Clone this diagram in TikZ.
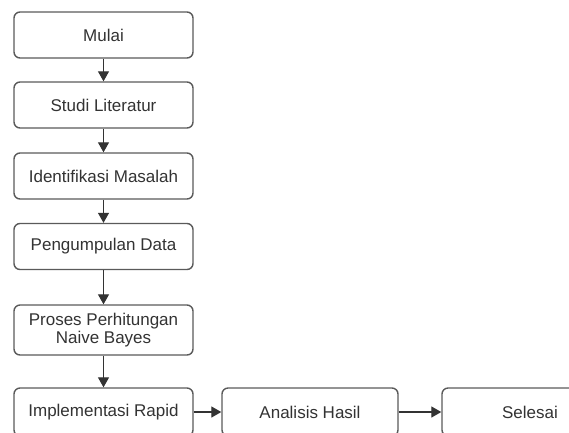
\documentclass[tikz,border=0pt]{standalone}
\usepackage{fontspec}
\setmainfont{Liberation Sans}
\usetikzlibrary{arrows.meta}
\definecolor{boxgray}{HTML}{5A5A5A}
\definecolor{txtgray}{HTML}{333333}
\begin{document}
\begin{tikzpicture}[x=1pt, y=-1pt,
    font=\fontsize{17}{18}\selectfont,
    box/.style={draw=boxgray, line width=1.4pt, rounded corners=6pt, fill=white,
                text=txtgray, align=center, inner sep=0pt,
                minimum width=179pt, minimum height=46pt},
    arr/.style={draw=black!80, line width=1.3pt, -{Triangle[length=10pt,width=11pt]}}]
  \useasboundingbox (0,0) rectangle (569,432);
  \node[box] (mulai) at (103.5,35) {Mulai};
  \node[box] (studi) at (103.5,105) {Studi Literatur};
  \node[box] (masalah) at (103.5,176) {Identifikasi Masalah};
  \node[box] (data) at (103.5,246.5) {Pengumpulan Data};
  \node[box, minimum height=50pt] (naive) at (103.5,330) {Proses Perhitungan\\Naive Bayes};
  \node[box, minimum height=48pt] (rapid) at (103.5,412) {Implementasi Rapid};
  \node[box, minimum height=48pt, minimum width=176pt] (hasil) at (310,412) {Analisis Hasil};
  \node[box, minimum height=48pt, minimum width=176pt] (selesai) at (530,412) {Selesai};
  \draw[arr] (mulai) -- (studi);
  \draw[arr] (studi) -- (masalah);
  \draw[arr] (masalah) -- (data);
  \draw[arr] (data) -- (naive);
  \draw[arr] (naive) -- (rapid);
  \draw[arr] (rapid) -- (hasil);
  \draw[arr] (hasil) -- (selesai);
\end{tikzpicture}
\end{document}
